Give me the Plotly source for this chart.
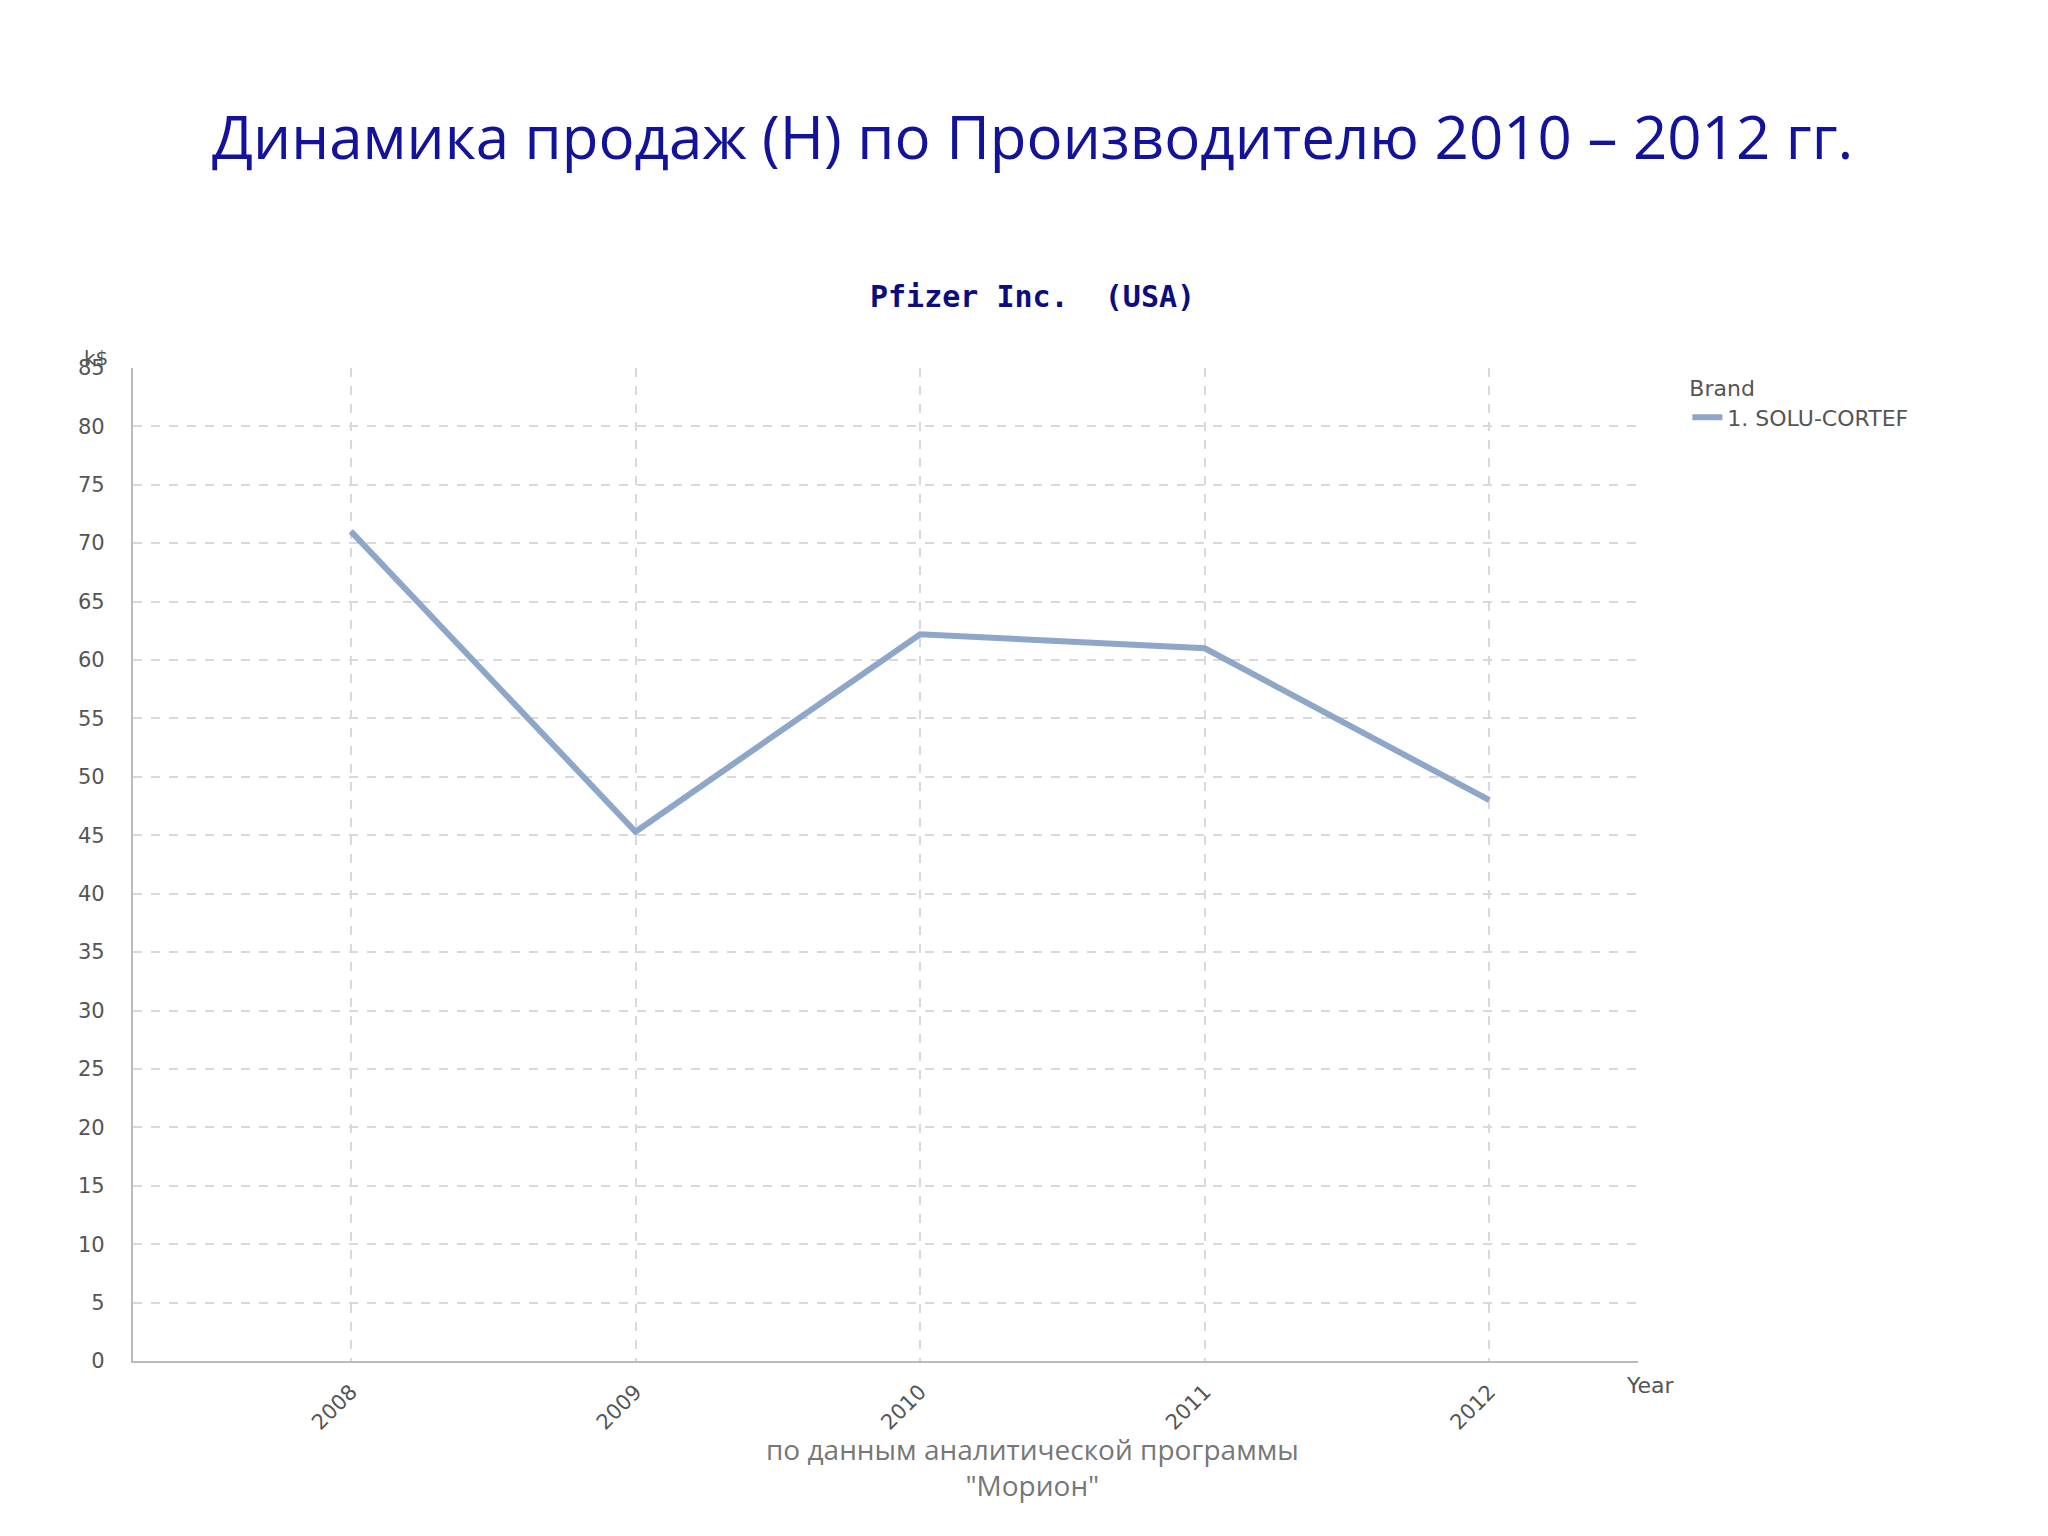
import plotly.graph_objects as go

years = ["2008", "2009", "2010", "2011", "2012"]
values = [71.0, 45.3, 62.2, 61.0, 48.0]
series_name = "1. SOLU-CORTEF"
yticks = list(range(0, 90, 5))

fig = go.Figure()
fig.add_trace(go.Scatter(x=list(range(len(years))), y=values, mode="lines", name=series_name,
                         line=dict(color="#8ea6c8", width=6)))
W, H = 2048, 1536
fig.update_layout(
    width=W, height=H, margin=dict(l=0, r=0, t=0, b=0),
    paper_bgcolor="white", plot_bgcolor="white",
    font=dict(family="DejaVu Sans", color="#444"),
    showlegend=True,
    legend=dict(x=0.82, y=0.77, xanchor="left", yanchor="top", title=dict(text="Brand", font=dict(size=22, color="#555")),
                font=dict(size=22, color="#555"), bgcolor="rgba(0,0,0,0)"),
    xaxis=dict(domain=[0.061, 0.796], range=[-0.766, 4.523], tickmode="array",
               tickvals=list(range(len(years))), ticktext=years, tickangle=-45,
               showgrid=True, gridcolor="#d8d8de", griddash="dash", gridwidth=2,
               showline=True, linecolor="#bbb", linewidth=2, zeroline=False,
               tickfont=dict(size=21, color="#555"), ticklabelstandoff=8),
    yaxis=dict(domain=[0.113, 0.77], range=[0, 85], tickmode="array", tickvals=yticks,
               showgrid=True, gridcolor="#d8d8de", griddash="dash", gridwidth=2,
               showline=True, linecolor="#bbb", linewidth=2, zeroline=False,
               tickfont=dict(size=21, color="#555"), ticks="", ticklabelstandoff=22),
    annotations=[
        dict(text="Динамика продаж (Н) по Производителю 2010 – 2012 гг.", x=0.5, y=0.952, xref="paper", yref="paper",
             showarrow=False, font=dict(family="Open Sans", size=60, color="#12129a")),
        dict(text="<b>Pfizer Inc.  (USA)</b>", x=0.5, y=0.83, xref="paper", yref="paper",
             showarrow=False, font=dict(family="DejaVu Sans Mono", size=30, color="#0c0c80")),
        dict(text="k$", x=0.036, y=0.786, xref="paper", yref="paper", showarrow=False,
             font=dict(size=20, color="#555")),
        dict(text="Year", x=0.815, y=0.087, xref="paper", yref="paper", showarrow=False,
             font=dict(size=22, color="#555")),
        dict(text="по данным аналитической программы<br>\"Морион\"", x=0.5, y=0.017, xref="paper", yref="paper",
             showarrow=False, font=dict(family="Open Sans", size=28, color="#777")),
    ],
)
fig.write_html("out.html")
